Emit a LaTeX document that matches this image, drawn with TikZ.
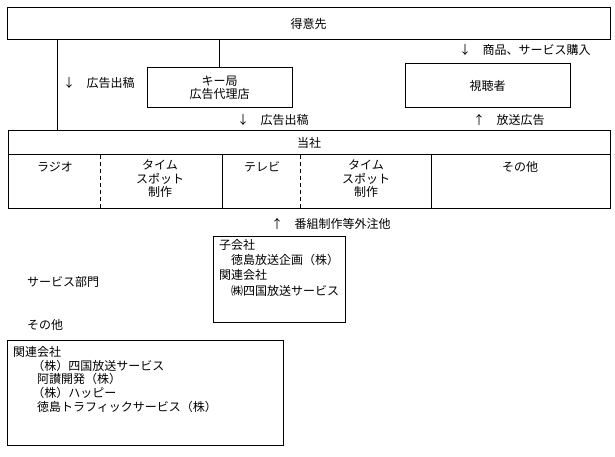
\documentclass[tikz,border=0pt]{standalone}
\usepackage{fontspec}
\setmainfont{Noto Sans CJK JP}
\begin{document}
\begin{tikzpicture}[x=1pt,y=-1pt,
  box/.style={draw,line width=1pt,inner sep=0pt},
  txt/.style={inner sep=0pt,anchor=west,font=\fontsize{12}{13.5}\selectfont},
  ctxt/.style={inner sep=0pt,anchor=center,font=\fontsize{12}{13.5}\selectfont,align=center},
  conn/.style={line width=1pt},
  dashdiv/.style={line width=1pt,dash pattern=on 4pt off 3pt}]
\useasboundingbox (0,0) rectangle (615,457);
% top box
\node[box,minimum width=603pt,minimum height=32pt] (client) at (308.5,24) {};
\node[ctxt] (clientT) at (308.5,24) {得意先};
% key station
\node[box,minimum width=145pt,minimum height=40pt] (key) at (219.5,88) {};
\node[ctxt] (keyT) at (219.5,88) {キー局\\広告代理店};
% viewer
\node[box,minimum width=165pt,minimum height=44pt] (viewer) at (487.5,86) {};
\node[ctxt] (viewerT) at (487.5,86) {視聴者};
% company box
\node[box,minimum width=602pt,minimum height=77pt] (company) at (309,169.5) {};
\node[ctxt] (companyT) at (309,143) {当社};
\coordinate (divL) at (8,155);
\coordinate (divR) at (610,155);
\draw[conn] (divL) -- (divR);
\coordinate (d1t) at (100,155); \coordinate (d1b) at (100,208);
\coordinate (d2t) at (222,155); \coordinate (d2b) at (222,208);
\coordinate (d3t) at (300,155); \coordinate (d3b) at (300,208);
\coordinate (d4t) at (431,155); \coordinate (d4b) at (431,208);
\draw[dashdiv] (d1t) -- (d1b);
\draw[conn] (d2t) -- (d2b);
\draw[dashdiv] (d3t) -- (d3b);
\draw[conn] (d4t) -- (d4b);
\node[ctxt] (radio) at (55,167) {ラジオ};
\node[ctxt,anchor=north] (time1) at (160,160) {タイム\\スポット\\制作};
\node[ctxt] (tv) at (262,167) {テレビ};
\node[ctxt,anchor=north] (time2) at (366,160) {タイム\\スポット\\制作};
\node[ctxt] (other1) at (520,167) {その他};
% connectors
\coordinate (c1) at (57,0);
\draw[conn] (client.south -| c1) -- (company.north -| c1);
\draw[conn] (client.south -| key.north) -- (key.north);
% labels
\node[txt] (l1) at (63,83) {↓\hspace{0.95em}広告出稿};
\node[txt] (l2) at (237,120) {↓\hspace{0.95em}広告出稿};
\node[txt] (l3) at (459,50) {↓\hspace{0.95em}商品、サービス購入};
\node[txt] (l4) at (473,120) {↑\hspace{0.95em}放送広告};
\node[txt] (l5) at (271,224) {↑\hspace{0.95em}番組制作等外注他};
% subsidiary box
\node[box,minimum width=132pt,minimum height=86pt] (sub) at (279,279) {};
\node[txt,anchor=north west,align=left,font=\fontsize{12}{15.3}\selectfont] (subT) at (219,239) {子会社\\\hspace{1em}徳島放送企画（株）\\関連会社\\\hspace{1em}㈱四国放送サービス};
\node[txt] (svc) at (27,282) {サービス部門};
\node[txt] (other2) at (27,325) {その他};
% bottom box
\node[box,minimum width=276pt,minimum height=105pt] (rel) at (145,392.5) {};
\node[txt,anchor=north west,align=left,font=\fontsize{12}{13.8}\selectfont] (relT) at (13,346) {関連会社\\\hspace{1.6em}（株）四国放送サービス\\\hspace{2em}阿讃開発（株）\\\hspace{1.6em}（株）ハッピー\\\hspace{2em}徳島トラフィックサービス（株）};
\end{tikzpicture}
\end{document}
